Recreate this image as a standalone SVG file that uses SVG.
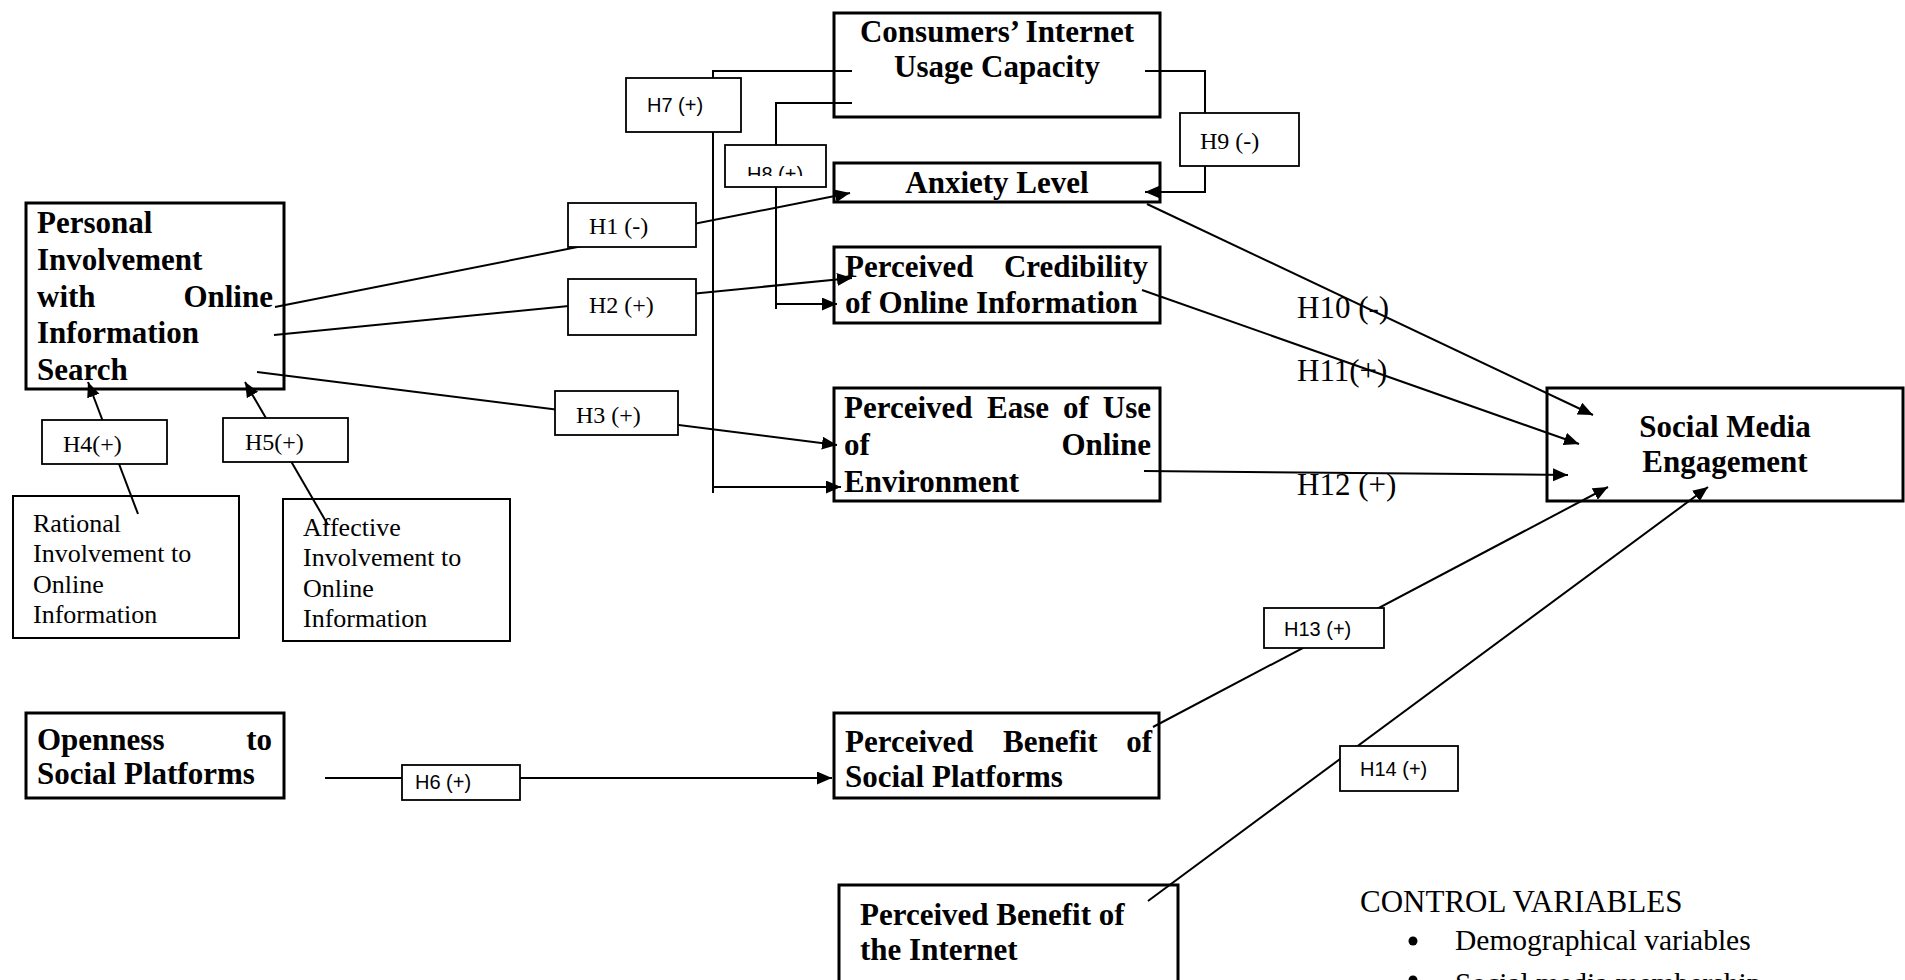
<svg xmlns="http://www.w3.org/2000/svg" width="1905" height="980" viewBox="0 0 1905 980">
<style>
.bg{fill:#fff}
.node{fill:#fff;stroke:#000;stroke-width:3}
.box{fill:#fff;stroke:#000;stroke-width:2}
.lbl{fill:#fff;stroke:#000;stroke-width:1.8}
.t{font-family:"Liberation Serif","Times New Roman",serif;font-weight:bold;font-size:31px;fill:#000}
.r{font-family:"Liberation Serif","Times New Roman",serif;font-size:26px;fill:#000}
.hs{font-family:"Liberation Serif","Times New Roman",serif;font-size:24px;fill:#000}
.ha{font-family:"Liberation Sans",Arial,sans-serif;font-size:20px;fill:#000}
.big{font-family:"Liberation Serif","Times New Roman",serif;font-size:31px;fill:#000}
.c{text-anchor:middle}
.e{text-anchor:end}
.ln{fill:none;stroke:#000;stroke-width:2}
</style>
<defs>
<marker id="ah" markerUnits="userSpaceOnUse" markerWidth="16" markerHeight="14" refX="15" refY="6.5" orient="auto">
<path d="M0,0 L15,6.5 L0,13 z" fill="#000"/>
</marker>
<clipPath id="h8clip"><rect x="725" y="145" width="101" height="31"/></clipPath>
</defs>
<rect class="bg" x="0" y="0" width="1905" height="980"/>

<g id="n-consumers">
<rect class="node" x="834" y="13" width="326" height="104"/>
<text class="t c" x="997" y="42">Consumers’ Internet</text>
<text class="t c" x="997" y="77">Usage Capacity</text>
</g>
<g id="n-anxiety">
<rect class="node" x="834" y="163" width="326" height="39"/>
<text class="t c" x="997" y="193">Anxiety Level</text>
</g>
<g id="n-credibility">
<rect class="node" x="834" y="247" width="326" height="76"/>
<text class="t" x="845" y="277">Perceived</text>
<text class="t e" x="1148" y="277">Credibility</text>
<text class="t" x="845" y="313">of Online Information</text>
</g>
<g id="n-ease">
<rect class="node" x="834" y="388" width="326" height="113"/>
<text class="t" x="844" y="418">Perceived</text>
<text class="t" x="987" y="418">Ease</text>
<text class="t" x="1063" y="418">of</text>
<text class="t e" x="1151" y="418">Use</text>
<text class="t" x="844" y="455">of</text>
<text class="t e" x="1151" y="455">Online</text>
<text class="t" x="844" y="492">Environment</text>
</g>
<g id="n-sme">
<rect class="node" x="1547" y="388" width="356" height="113"/>
<text class="t c" x="1725" y="437">Social Media</text>
<text class="t c" x="1725" y="472">Engagement</text>
</g>
<g id="n-personal">
<rect class="node" x="26" y="203" width="258" height="186"/>
<text class="t" x="37" y="233">Personal</text>
<text class="t" x="37" y="270">Involvement</text>
<text class="t" x="37" y="307">with</text>
<text class="t e" x="273" y="307">Online</text>
<text class="t" x="37" y="343">Information</text>
<text class="t" x="37" y="380">Search</text>
</g>
<g id="n-rational">
<rect class="box" x="13" y="496" width="226" height="142"/>
<text class="r" x="33" y="532">Rational</text>
<text class="r" x="33" y="562">Involvement to</text>
<text class="r" x="33" y="593">Online</text>
<text class="r" x="33" y="623">Information</text>
</g>
<g id="n-affective">
<rect class="box" x="283" y="499" width="227" height="142"/>
<text class="r" x="303" y="536">Affective</text>
<text class="r" x="303" y="566">Involvement to</text>
<text class="r" x="303" y="597">Online</text>
<text class="r" x="303" y="627">Information</text>
</g>
<g id="n-openness">
<rect class="node" x="26" y="713" width="258" height="85"/>
<text class="t" x="37" y="750">Openness</text>
<text class="t e" x="272" y="750">to</text>
<text class="t" x="37" y="784">Social Platforms</text>
</g>
<g id="n-benefit-sp">
<rect class="node" x="834" y="713" width="325" height="85"/>
<text class="t" x="845" y="752">Perceived</text>
<text class="t" x="1003" y="752">Benefit</text>
<text class="t e" x="1152" y="752">of</text>
<text class="t" x="845" y="787">Social Platforms</text>
</g>
<g id="n-benefit-internet">
<rect class="node" x="839" y="885" width="339" height="110"/>
<text class="t" x="860" y="925">Perceived Benefit of</text>
<text class="t" x="860" y="960">the Internet</text>
</g>
<g id="n-control">
<text class="big" x="1360" y="912">CONTROL VARIABLES</text>
<circle cx="1413" cy="941" r="4.5" fill="#000"/>
<text class="big" x="1455" y="950" style="font-size:29.5px">Demographical variables</text>
<circle cx="1413" cy="980" r="4.5" fill="#000"/>
<text class="big" x="1455" y="993" style="font-size:29.5px">Social media membership</text>
</g>

<g id="free-labels">
<text class="big" x="1297" y="318">H10 (-)</text>
<text class="big" x="1297" y="381">H11(+)</text>
<text class="big" x="1297" y="495">H12 (+)</text>
</g>

<g id="connectors">
<line class="ln" x1="275" y1="307" x2="850" y2="193" marker-end="url(#ah)"/>
<line class="ln" x1="274" y1="335" x2="852" y2="278" marker-end="url(#ah)"/>
<line class="ln" x1="257" y1="372" x2="837" y2="445" marker-end="url(#ah)"/>
<line class="ln" x1="138" y1="514" x2="88" y2="382" marker-end="url(#ah)"/>
<line class="ln" x1="328" y1="525" x2="245" y2="382" marker-end="url(#ah)"/>
<line class="ln" x1="325" y1="778" x2="832" y2="778" marker-end="url(#ah)"/>
<polyline class="ln" points="852,71 713,71 713,493"/>
<line class="ln" x1="713" y1="487" x2="841" y2="487" marker-end="url(#ah)"/>
<polyline class="ln" points="852,103 776,103 776,309"/>
<line class="ln" x1="776" y1="304" x2="837" y2="304" marker-end="url(#ah)"/>
<polyline class="ln" points="1145,71 1205,71 1205,192 1145,192" marker-end="url(#ah)"/>
<line class="ln" x1="1147" y1="204" x2="1593" y2="415" marker-end="url(#ah)"/>
<line class="ln" x1="1142" y1="290" x2="1579" y2="444" marker-end="url(#ah)"/>
<line class="ln" x1="1144" y1="471" x2="1568" y2="475" marker-end="url(#ah)"/>
<line class="ln" x1="1153" y1="727" x2="1608" y2="487" marker-end="url(#ah)"/>
<line class="ln" x1="1148" y1="901" x2="1708" y2="487" marker-end="url(#ah)"/>
</g>

<g id="h1"><rect class="lbl" x="568" y="203" width="128" height="44"/><text class="hs" x="589" y="234">H1 (-)</text></g>
<g id="h2"><rect class="lbl" x="568" y="279" width="128" height="56"/><text class="hs" x="589" y="313">H2 (+)</text></g>
<g id="h3"><rect class="lbl" x="555" y="391" width="123" height="44"/><text class="hs" x="576" y="423">H3 (+)</text></g>
<g id="h4"><rect class="lbl" x="42" y="420" width="125" height="44"/><text class="hs" x="63" y="452">H4(+)</text></g>
<g id="h5"><rect class="lbl" x="223" y="418" width="125" height="44"/><text class="hs" x="245" y="450">H5(+)</text></g>
<g id="h6"><rect class="lbl" x="402" y="765" width="118" height="35"/><text class="ha" x="415" y="789">H6 (+)</text></g>
<g id="h7"><rect class="lbl" x="626" y="78" width="115" height="54"/><text class="ha" x="647" y="112">H7 (+)</text></g>
<g id="h8"><rect class="lbl" x="725" y="145" width="101" height="42"/><text class="ha" x="747" y="181" clip-path="url(#h8clip)">H8 (+)</text></g>
<g id="h9"><rect class="lbl" x="1180" y="113" width="119" height="53"/><text class="hs" x="1200" y="149">H9 (-)</text></g>
<g id="h13"><rect class="lbl" x="1264" y="608" width="120" height="40"/><text class="ha" x="1284" y="636">H13 (+)</text></g>
<g id="h14"><rect class="lbl" x="1340" y="746" width="118" height="45"/><text class="ha" x="1360" y="776">H14 (+)</text></g>
</svg>
